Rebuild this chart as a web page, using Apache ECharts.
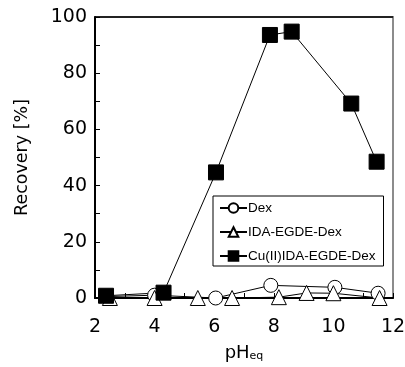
<!DOCTYPE html>
<html>
<head>
<meta charset="utf-8">
<script src="https://cdn.jsdelivr.net/npm/echarts@6/dist/echarts.min.js"></script>
<style>
  html, body { margin: 0; padding: 0; background: #fff; }
  #chart { width: 405px; height: 367px; }
</style>
</head>
<body>
<div id="chart"></div>
<script>
// pH_eq vs recovery
const dexData = [[2.4, 0.5], [4.0, 1.0], [6.05, 0], [7.9, 4.5], [10.05, 3.8], [11.5, 1.7]]
const idaData = [[2.5, 0], [4.0, 0], [5.45, 0], [6.6, 0], [8.17, 0.3], [9.1, 1.8], [10.0, 1.7], [11.55, 0]]
const cuData = [[2.37, 0.8], [4.3, 1.9], [6.06, 44.7], [7.87, 93.6], [8.6, 94.8], [10.6, 69.2], [11.45, 48.5]]
const seriesNames = ['Dex', 'IDA-EGDE-Dex', 'Cu(II)IDA-EGDE-Dex']

const font = 'Liberation Sans, Arial, sans-serif'
const wideFont = 'DejaVu Sans, sans-serif'
const chart = echarts.init(document.getElementById('chart'))

const lineSeries = (name, data, symbol, size, fill) => ({
  name,
  type: 'line',
  data,
  symbol,
  symbolSize: size,
  showAllSymbol: true,
  clip: false,
  lineStyle: { color: '#000', width: 1 },
  itemStyle: { color: fill, borderColor: '#000', borderWidth: 1 },
  emphasis: { disabled: true }
})

const cu = lineSeries(seriesNames[2], cuData, 'rect', 15, '#000')
// black top edge of the frame (the grid border gives the grey right edge)
cu.markLine = {
  silent: true,
  symbol: 'none',
  label: { show: false },
  lineStyle: { color: '#000', width: 1.5, type: 'solid' },
  data: [{ yAxis: 100 }]
}

chart.setOption({
  animation: false,
  grid: {
    left: 95, right: 12, top: 17, bottom: 69,
    outerBoundsMode: 'none', containLabel: false,
    show: true, borderColor: '#8c8c8c', borderWidth: 2
  },
  legend: {
    orient: 'vertical',
    left: 213,
    top: 196,
    padding: [5, 8, 3, 6],
    itemGap: 10,
    itemWidth: 27,
    itemHeight: 12,
    backgroundColor: '#fff',
    borderColor: '#000',
    borderWidth: 1,
    textStyle: { fontFamily: font, fontSize: 13.5, color: '#000', padding: [0, 0, 0, -4] },
    data: seriesNames
  },
  xAxis: {
    type: 'value',
    min: 2,
    max: 12,
    interval: 2,
    name: '{m|pH}{s|eq}',
    nameLocation: 'middle',
    nameGap: 46,
    nameTextStyle: {
      rich: {
        m: { fontFamily: wideFont, fontSize: 18, color: '#000' },
        s: { fontFamily: wideFont, fontSize: 11, color: '#000', verticalAlign: 'bottom', padding: [7, 0, 0, 0] }
      }
    },
    axisLine: { lineStyle: { color: '#000', width: 2 } },
    axisTick: { inside: true, length: 5, lineStyle: { color: '#000' } },
    minorTick: { show: true, splitNumber: 2, length: 5, lineStyle: { color: '#000' } },
    axisLabel: { fontFamily: wideFont, fontSize: 19, color: '#000', margin: 20 },
    splitLine: { show: false }
  },
  yAxis: {
    type: 'value',
    min: 0,
    max: 100,
    interval: 20,
    name: 'Recovery [%]',
    nameLocation: 'middle',
    nameGap: 64,
    nameTextStyle: { fontFamily: wideFont, fontSize: 17.5, color: '#000' },
    axisLine: { show: true, lineStyle: { color: '#000', width: 2 } },
    axisTick: { inside: true, length: 5, lineStyle: { color: '#000' } },
    minorTick: { show: true, splitNumber: 2, length: 5, lineStyle: { color: '#000' } },
    axisLabel: { fontFamily: wideFont, fontSize: 19, color: '#000', margin: 8 },
    splitLine: { show: false }
  },
  series: [
    lineSeries(seriesNames[0], dexData, 'circle', 14, '#fff'),
    lineSeries(seriesNames[1], idaData, 'triangle', 15, '#fff'),
    cu
  ]
})
</script>
</body>
</html>
